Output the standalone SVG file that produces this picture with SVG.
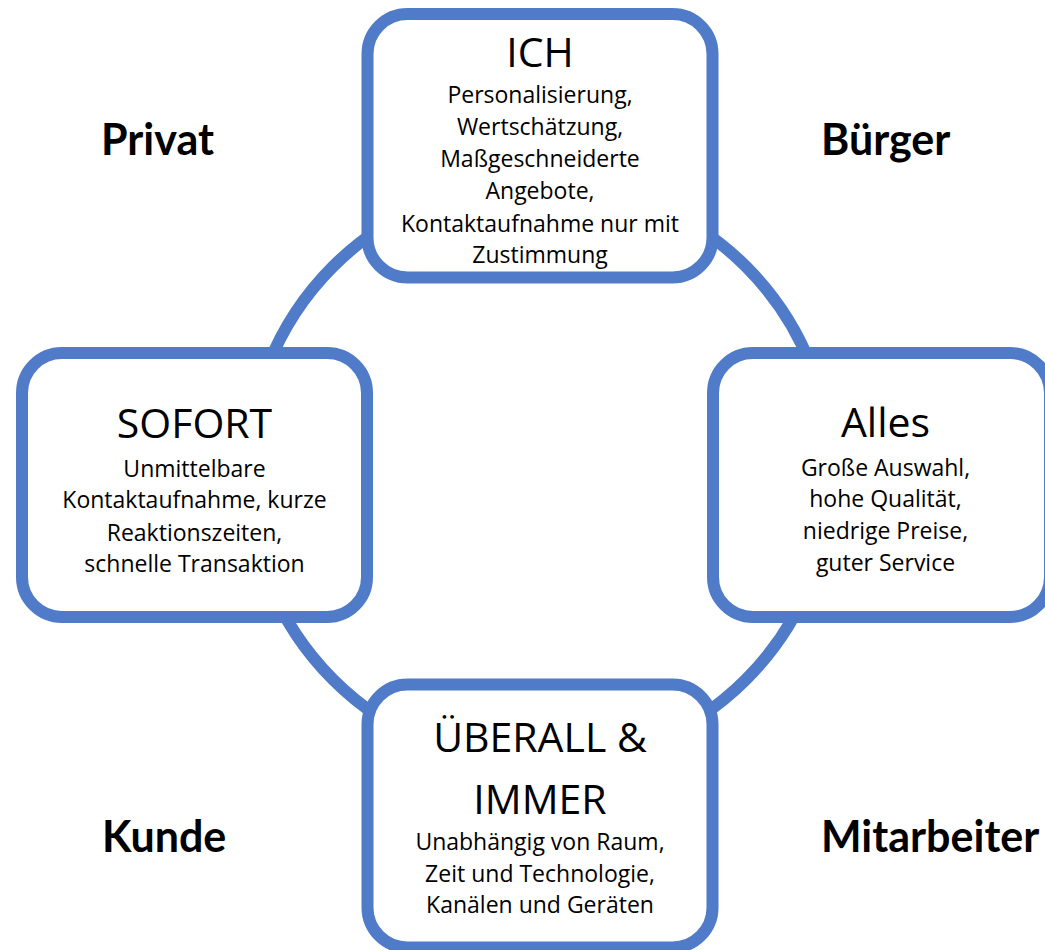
<svg xmlns="http://www.w3.org/2000/svg" width="1045" height="950" viewBox="0 0 1045 950">
<style>
.ring{fill:none;stroke:#4F7BC8;stroke-width:12}
.box{fill:#ffffff;stroke:#4F7BC8;stroke-width:12}
.t{font-family:"Open Sans","DejaVu Sans",sans-serif;fill:#000;text-anchor:middle}
.h{font-size:41px}
.b{font-size:23px}
.lab{font-family:Lato,"Open Sans",sans-serif;font-weight:bold;font-size:43px;fill:#000}
</style>
<rect width="1045" height="950" fill="#ffffff"/>
<g id="connectors">
<circle class="ring" cx="539.5" cy="473" r="292"/>
</g>
<g id="node-ich">
<rect class="box" x="367.5" y="14" width="345" height="263.5" rx="40"/>
<text class="t h" x="540" y="67">ICH</text>
<text class="t b" x="540" y="103">Personalisierung,</text>
<text class="t b" x="540" y="135">Wertschätzung,</text>
<text class="t b" x="540" y="167">Maßgeschneiderte</text>
<text class="t b" x="540" y="199">Angebote,</text>
<text class="t b" x="540" y="232">Kontaktaufnahme nur mit</text>
<text class="t b" x="540" y="263">Zustimmung</text>
</g>
<g id="node-sofort">
<rect class="box" x="22" y="353" width="345" height="264" rx="40"/>
<text class="t h" x="194.5" y="438">SOFORT</text>
<text class="t b" x="194.5" y="477">Unmittelbare</text>
<text class="t b" x="194.5" y="508">Kontaktaufnahme, kurze</text>
<text class="t b" x="194.5" y="541">Reaktionszeiten,</text>
<text class="t b" x="194.5" y="572">schnelle Transaktion</text>
</g>
<g id="node-alles">
<rect class="box" x="713" y="353" width="337" height="264" rx="40"/>
<text class="t h" x="885.5" y="437">Alles</text>
<text class="t b" x="885.5" y="476">Große Auswahl,</text>
<text class="t b" x="885.5" y="507">hohe Qualität,</text>
<text class="t b" x="885.5" y="539">niedrige Preise,</text>
<text class="t b" x="885.5" y="571">guter Service</text>
</g>
<g id="node-ueberall">
<rect class="box" x="367.5" y="684.5" width="345" height="263" rx="40"/>
<text class="t h" x="540" y="752">ÜBERALL &amp;</text>
<text class="t h" x="540" y="814">IMMER</text>
<text class="t b" x="540" y="850">Unabhängig von Raum,</text>
<text class="t b" x="540" y="882">Zeit und Technologie,</text>
<text class="t b" x="540" y="913">Kanälen und Geräten</text>
</g>
<g id="labels">
<text class="lab" x="101" y="155">Privat</text>
<text class="lab" x="821" y="155">Bürger</text>
<text class="lab" x="102" y="852">Kunde</text>
<text class="lab" x="821" y="852">Mitarbeiter</text>
</g>
</svg>
